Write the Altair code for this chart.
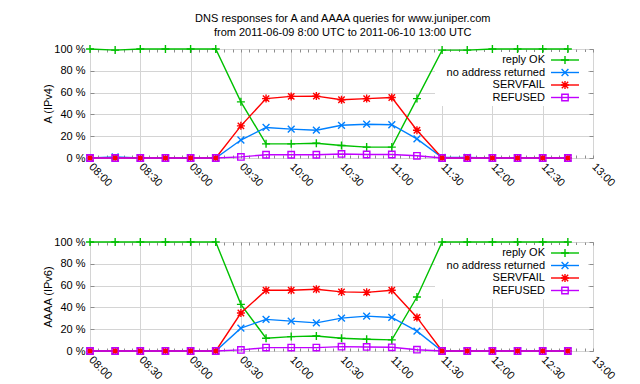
import altair as alt
import pandas as pd

FONT = "Liberation Sans"
GRID = "#d4d4d4"
BORDER = "#8c8c8c"

times = ["08:00", "08:15", "08:30", "08:45", "09:00", "09:15", "09:30", "09:45",
         "10:00", "10:15", "10:30", "10:45", "11:00", "11:15", "11:30", "11:45",
         "12:00", "12:15", "12:30", "12:45"]

series_names = ["reply OK", "no address returned", "SERVFAIL", "REFUSED"]
series_colors = ["#00c000", "#0080ff", "#ff0000", "#c000ff"]

# A (IPv4) panel, percent
ok_v4 = [100, 99, 100, 100, 100, 100, 51.5, 13, 13, 13.5, 11.5, 10, 10, 54.5, 99, 99, 100, 100, 100, 100]
noaddr_v4 = [0, 1, 0, 0, 0, 0, 16.5, 28, 26.5, 25.5, 30, 31, 30.5, 17.5, 0.5, 0.5, 0, 0, 0, 0]
servfail_v4 = [0, 0, 0, 0, 0, 0, 29.5, 54.5, 56.5, 56.8, 53.5, 54.5, 55.5, 25.5, 0, 0, 0, 0, 0, 0]
refused_v4 = [0, 0, 0, 0, 0, 0, 1, 3, 3, 3, 3.7, 3.2, 3.2, 2, 0, 0, 0, 0, 0, 0]

# AAAA (IPv6) panel, percent
ok_v6 = [100, 100, 100, 100, 100, 100, 42.8, 11.7, 13.2, 13.8, 11.7, 10.8, 10.2, 49.5, 100, 100, 100, 100, 100, 100]
noaddr_v6 = [0, 0, 0, 0, 0, 0, 21, 29, 27.4, 25.8, 30.2, 32, 30.8, 18.2, 0, 0, 0, 0, 0, 0]
servfail_v6 = [0, 0, 0, 0, 0, 0, 34.8, 55.7, 55.7, 56.6, 54.2, 53.8, 55.7, 30.8, 0, 0, 0, 0, 0, 0]
refused_v6 = [0, 0, 0, 0, 0, 0, 1, 3.1, 3.1, 3.1, 4, 3.7, 3.4, 1.2, 0, 0, 0, 0, 0, 0]

y_ticks = [0, 20, 40, 60, 80, 100]

# axis tick positions (ms since epoch, UTC): every 5 minutes, labelled every 30
t0 = pd.Timestamp("2011-06-10 08:00", tz="UTC")
x_ticks = [int((t0 + pd.Timedelta(minutes=m)).value // 10**6) for m in range(0, 301, 5)]
MAJOR = "utcminutes(datum.value) % 30 == 0"

# marker shapes (plus, cross, asterisk, open square)
marker_paths = [
    "M-1,0L1,0M0,-1L0,1",
    "M-0.85,-0.85L0.85,0.85M-0.85,0.85L0.85,-0.85",
    "M-1,0L1,0M0,-1L0,1M-0.8,-0.8L0.8,0.8M-0.8,0.8L0.8,-0.8",
    "M-0.8,-0.8L0.8,-0.8L0.8,0.8L-0.8,0.8Z",
]


def long_df(cols):
    rows = []
    for name, vals in zip(series_names, cols):
        for t, v in zip(times, vals):
            rows.append({"time": f"2011-06-10T{t}:00Z", "value": v, "series": name})
    return pd.DataFrame(rows)


legend_df = pd.DataFrame({"series": series_names})

W, H = 503, 109
xscale = alt.Scale(type="utc", domain=[x_ticks[0], x_ticks[-1]])
yscale = alt.Scale(domain=[0, 100])
color = alt.Color("series:N", scale=alt.Scale(domain=series_names, range=series_colors), legend=None)
shape = alt.Shape("series:N", scale=alt.Scale(domain=series_names, range=marker_paths), legend=None)
leg_y = alt.Y("series:N", scale=alt.Scale(type="point", domain=series_names, range=[11, 48.5], padding=0),
              axis=None)


def panel(df, ytitle):
    base = alt.Chart(df)
    # bottom axis: labels every 30 min, grid every 30 min, inward ticks every 5 min
    x_main = alt.X("time:T", scale=xscale, title=None, axis=alt.Axis(
        orient="bottom", values=x_ticks,
        labelExpr=f"{MAJOR} ? utcFormat(datum.value, '%H:%M') : ''",
        labelAngle=45, labelAlign="left", labelBaseline="middle", labelPadding=10,
        labelOverlap=False, labelBound=False, labelFlush=False,
        tickSize={"expr": "-3"}, tickColor=BORDER, domain=False,
        grid=True, gridColor=GRID,
        gridOpacity={"condition": {"test": MAJOR, "value": 1}, "value": 0}))
    y_main = alt.Y("value:Q", scale=yscale, title=ytitle, axis=alt.Axis(
        orient="left", values=y_ticks, labelExpr="datum.value + ' %'",
        tickSize={"expr": "-4"}, tickColor=BORDER, domain=False,
        grid=True, gridColor=GRID, labelPadding=9, titlePadding=0))
    # mirrored inward ticks on the top and right edges
    x_top = alt.X("time:T", scale=xscale, title=None, axis=alt.Axis(
        orient="top", values=x_ticks, labels=False, grid=False, domain=False,
        tickColor=BORDER, tickSize={"expr": "-3"}))
    y_right = alt.Y("value:Q", scale=yscale, title=None, axis=alt.Axis(
        orient="right", values=y_ticks, labels=False, grid=False, domain=False,
        tickColor=BORDER, tickSize={"expr": "-4"}))

    key_bg = alt.Chart(legend_df).mark_rect(fill="white", opacity=1).encode(
        x=alt.value(345), x2=alt.value(498), y=alt.value(3), y2=alt.value(57))
    lines = base.mark_line(strokeWidth=1.4).encode(x=x_main, y=y_main, color=color)
    points = base.mark_point(size=64, strokeWidth=1.4, opacity=1).encode(
        x=x_top, y=y_right, color=color, shape=shape)

    key_text = alt.Chart(legend_df).mark_text(
        align="right", baseline="middle", font=FONT, fontSize=11, color="black"
    ).encode(x=alt.value(455), y=leg_y, text="series:N")
    key_line = alt.Chart(legend_df).mark_rule(strokeWidth=1.4).encode(
        x=alt.value(461), x2=alt.value(489), y=leg_y, color=color)
    key_mark = alt.Chart(legend_df).mark_point(size=64, strokeWidth=1.4, opacity=1).encode(
        x=alt.value(475), y=leg_y, color=color, shape=shape)

    return alt.layer(key_bg, lines, points, key_line, key_mark, key_text).resolve_scale(
        y="independent"
    ).resolve_axis(x="independent", y="independent").properties(width=W, height=H)


top = panel(long_df([ok_v4, noaddr_v4, servfail_v4, refused_v4]), "A (IPv4)")
bottom = panel(long_df([ok_v6, noaddr_v6, servfail_v6, refused_v6]), "AAAA (IPv6)")

chart = alt.vconcat(
    top, bottom, spacing=45,
    title=alt.TitleParams(
        text=["DNS responses for A and AAAA queries for www.juniper.com",
              "from 2011-06-09 8:00 UTC to 2011-06-10 13:00 UTC"],
        font=FONT, fontSize=11, fontWeight="normal", color="black",
        anchor="middle", lineHeight=14, offset=4, dx=13,
    ),
).properties(
    padding={"left": 34, "top": 4, "right": 0, "bottom": 0},
    background="white",
).configure_view(stroke=BORDER, strokeWidth=1).configure_axis(
    labelFont=FONT, labelFontSize=11, labelColor="black",
    titleFont=FONT, titleFontSize=11, titleFontWeight="normal", titleColor="black",
)

chart.save("out.html", embed_options={"renderer": "svg", "actions": False})
